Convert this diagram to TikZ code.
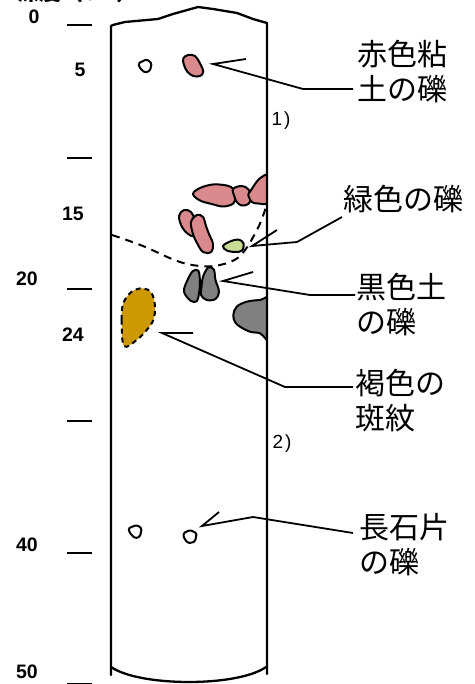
\documentclass[tikz,border=0pt]{standalone}
\usepackage{fontspec}
\setmainfont{Liberation Sans}
\newfontfamily\jfont{Noto Sans CJK JP}
\definecolor{clayred}{RGB}{218,138,140}
\definecolor{greenpeb}{RGB}{200,220,150}
\definecolor{blacksoil}{RGB}{128,128,128}
\definecolor{mottle}{RGB}{204,153,0}
\begin{document}
\begin{tikzpicture}[x=1pt,y=-1pt,
  core/.style={line width=2.3pt, line join=round, line cap=round},
  leader/.style={line width=1.8pt, line join=miter},
  tickmark/.style={line width=2.5pt},
  depth/.style={font=\fontsize{19.5}{20}\selectfont\bfseries, inner sep=0},
  note/.style={font=\fontsize{19}{20}\selectfont, inner sep=0},
  jlabel/.style={font=\jfont\fontsize{30}{35}\selectfont, align=left, anchor=west, inner sep=0},
  peb/.style={line width=2pt, line join=round},
  boundary/.style={line width=2pt, dash pattern=on 8pt off 6pt},
]
\useasboundingbox (0,0) rectangle (474,684);
\clip (0,0) rectangle (474,684);

% axis heading (only its lower edge falls inside the page)
\node[anchor=base west, inner sep=0, font=\jfont\bfseries\fontsize{22}{22}\selectfont] (head) at (17,1) {深度（cm）};

% depth ticks and values
\foreach \y/\n in {25/t0,158/t10,289/t20,421/t30,553/t40,684/t50}
  \draw[tickmark] (67,\y) coordinate (\n a) -- (92,\y) coordinate (\n b);
\node[depth] (d0) at (34,17) {0};
\node[depth] (d5) at (80,70) {5};
\node[depth] (d15) at (73,214) {15};
\node[depth] (d20) at (27,279) {20};
\node[depth] (d24) at (73,335) {24};
\node[depth] (d40) at (27,545) {40};
\node[depth] (d50) at (27,672) {50};

% inclusions inside the core
\begin{scope}
  \clip (111,0) rectangle (266,684);
  % red clay pebbles
  \draw[peb, fill=clayred] plot[smooth cycle, tension=0.6] coordinates
    {(183.3,58.3) (188.3,55) (195,56) (200,63.3) (203.3,71.7) (200,76) (193.3,76) (187.3,71.7) (184,65)};
  \draw[peb, fill=clayred] plot[smooth cycle, tension=0.6] coordinates
    {(193,194) (200,188) (213,184.5) (226.7,185.5) (233.3,189) (235.5,196.7) (233.3,203.5) (223.3,206.5) (211.7,204) (200,200.5)};
  \draw[peb, fill=clayred] plot[smooth cycle, tension=0.6] coordinates
    {(233,189) (241.7,186) (248.5,189.5) (250.5,198.3) (248.3,204) (241.7,205.5) (236.7,202) (234.5,196.7)};
  \draw[peb, fill=clayred] plot[smooth cycle, tension=0.5] coordinates
    {(250,191.7) (256.7,181.7) (261.7,177) (268,176) (268,202) (258.3,203.5) (251.7,202) (248.3,195)};
  \draw[peb, fill=clayred] plot[smooth cycle, tension=0.6] coordinates
    {(179,216) (184,210) (191,212) (195,220) (197,229) (194,236) (188,234) (182,227)};
  \draw[peb, fill=clayred] plot[smooth cycle, tension=0.6] coordinates
    {(191,222) (197,215) (203,217) (206,226) (209,234) (213,244) (211,252) (203,252) (197,243) (193,234)};
  % green pebble
  \draw[peb, fill=greenpeb] plot[smooth cycle, tension=0.6] coordinates
    {(223,246) (230,241.5) (238.3,239.5) (243.5,243.3) (242,250.5) (235,252) (226.7,250.5)};
  % layer boundary
  \draw[boundary] plot[smooth, tension=0.6] coordinates
    {(112,235) (143,246) (177,261) (200,266) (220,265) (240,256) (257,230) (266,207)};
  % black soil pebbles
  \draw[peb, fill=blacksoil] plot[smooth cycle, tension=0.6] coordinates
    {(184,291.7) (187.5,280) (193,271) (198.5,271) (200,283.3) (199,293.3) (197,301) (191,301)};
  \draw[peb, fill=blacksoil] plot[smooth cycle, tension=0.6] coordinates
    {(201.5,286.7) (203,276.7) (208.3,267.5) (213.8,269.5) (215.5,280) (219,291.7) (215.5,299) (206.7,300) (201,295)};
  \draw[peb, fill=blacksoil] plot[smooth cycle, tension=0.6] coordinates
    {(233.3,315) (236.7,306.7) (246.7,301.7) (260,300) (270,300) (270,340) (265,338) (260,333.3) (250,331.7) (240,326.7) (235,322)};
  % brown mottle
  \draw[peb, fill=mottle, dash pattern=on 5pt off 4pt] plot[smooth cycle, tension=0.6] coordinates
    {(124,346) (121.7,320) (123.3,303.3) (131.7,291.7) (143.3,288.3) (151.7,293.3) (155,306.7) (153.3,320) (146.7,330) (136.7,340)};
  % feldspar and other small pebbles
  \draw[peb, fill=white, rounded corners=1.5pt] (138.3,63.3) -- (146.7,59.3) -- (151.7,63.3) -- (150,70.7) -- (145,72.7) -- (140,68.3) -- cycle;
  \draw[peb, fill=white, rounded corners=1.5pt] (128.3,528.3) -- (136.7,525) -- (141.7,528.3) -- (140,536.7) -- (135,538.3) -- (130,533.3) -- cycle;
  \draw[peb, fill=white, rounded corners=1.5pt] (183.3,533.3) -- (190,530) -- (196.7,533.3) -- (195,541.7) -- (188.3,543.3) -- (184,538.3) -- cycle;
\end{scope}

% core outline
\draw[core] (111,675) -- (111,26) -- (113,25) -- (125,22) -- (158,19) -- (173,14)
  -- (198,7) -- (213,9) -- (237,13) -- (253,19) -- (267,23) -- (267,674);
\draw[core] (111,667) .. controls (140,687) and (238,687) .. (266,667);

% layer numbers
\node[note] (n1) at (281,121) {1\kern2pt)};
\node[note] (n2) at (282,444) {2\kern2pt)};

% labels
\node[jlabel] (lab1) at (357,71.5) {赤色粘\\土の礫};
\node[jlabel] (lab2) at (343,199) {緑色の礫};
\node[jlabel] (lab3) at (356,304.5) {黒色土\\の礫};
\node[jlabel] (lab4) at (355,401) {褐色の\\斑紋};
\node[jlabel] (lab5) at (359,544.5) {長石片\\の礫};

% leader lines
\coordinate (r1) at (213,64);   \coordinate (r1s) at (246,59);
\coordinate (r1k) at (303,89);  \coordinate (r1e) at (353,89);
\draw[leader] (r1s) -- (r1) -- (r1k) -- (r1e);

\coordinate (r2) at (252,246);  \coordinate (r2s) at (277,230);
\coordinate (r2k) at (297,242); \coordinate (r2e) at (342,217);
\draw[leader] (r2s) -- (r2) -- (r2k) -- (r2e);

\coordinate (r3) at (223,281);  \coordinate (r3s) at (253,272);
\coordinate (r3k) at (310,295); \coordinate (r3e) at (355,295);
\draw[leader] (r3s) -- (r3) -- (r3k) -- (r3e);

\coordinate (r4) at (162,333);  \coordinate (r4s) at (193,333);
\coordinate (r4k) at (285,387); \coordinate (r4e) at (353,387);
\draw[leader] (r4s) -- (r4) -- (r4k) -- (r4e);

\coordinate (r5) at (202,526);  \coordinate (r5s) at (219,512);
\coordinate (r5k) at (253,517); \coordinate (r5e) at (353,533);
\draw[leader] (r5s) -- (r5) -- (r5k) -- (r5e);
\end{tikzpicture}
\end{document}
